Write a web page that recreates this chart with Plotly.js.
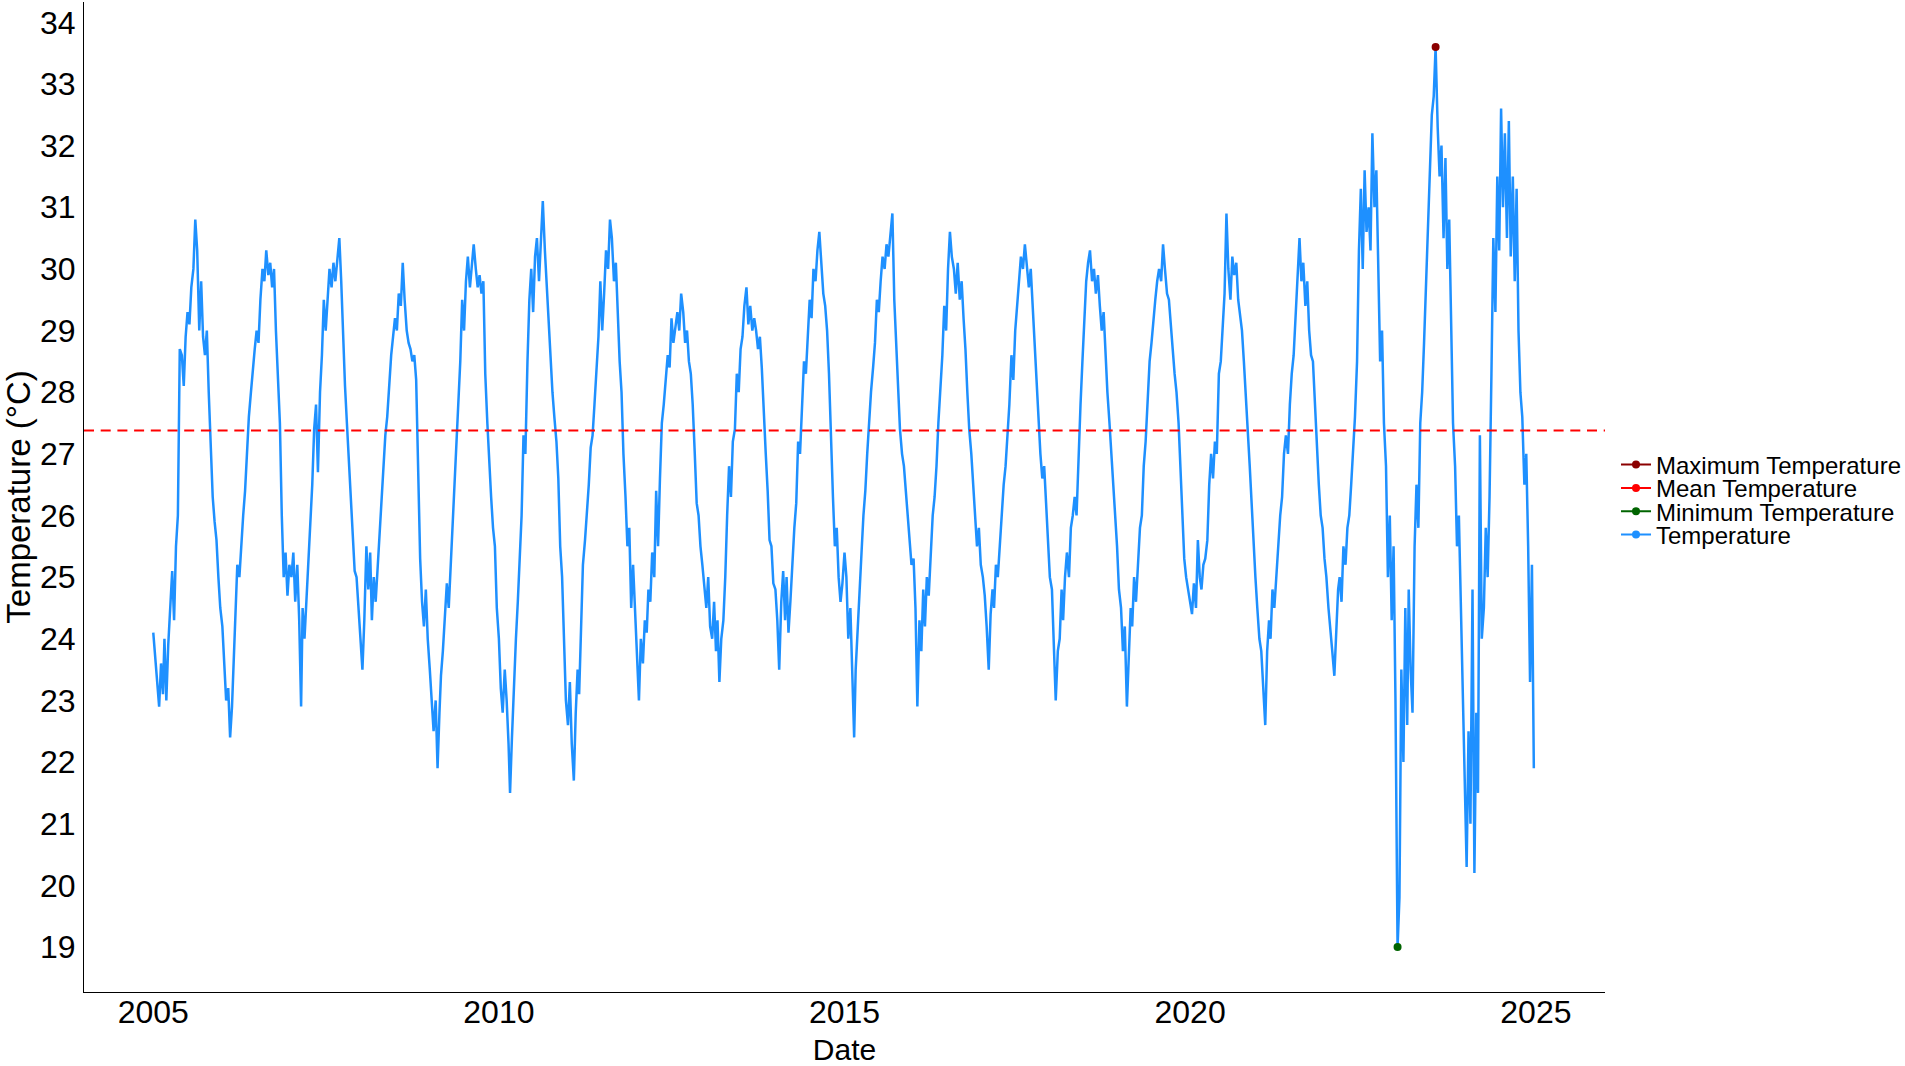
<!DOCTYPE html>
<html>
<head>
<meta charset="utf-8">
<script src="https://cdn.plot.ly/plotly-3.0.1.min.js"></script>
<style>
  html, body { margin: 0; padding: 0; background: #fff; }
  #chart { width: 1905px; height: 1066px; }
</style>
</head>
<body>
<div id="chart"></div>
<script>
// readings every ~10 days (1st, 11th, 21st of each month), one array per year
const firstYear = 2005;
const sampleDays = [1, 11, 21];

const t2005 = [24.1,23.7,23.3,22.9,23.6,23.1,24.0,23.0,23.9,24.5,25.1,24.3, 25.5,26.0,28.7,28.6,28.1,28.9,29.3,29.1,29.7,30.0,30.8,30.3, 29.0,29.8,28.9,28.6,29.0,28.0,27.0,26.3,25.9,25.6,25.0,24.5];
const t2006 = [24.2,23.6,23.0,23.2,22.4,22.9,23.5,24.3,25.2,25.0,25.6,26.0, 26.4,27.0,27.6,28.0,28.4,28.7,29.0,28.8,29.5,30.0,29.8,30.3, 29.9,30.1,29.7,30.0,29.0,28.3,27.5,26.0,25.0,25.4,24.7,25.2];
const t2007 = [25.0,25.4,24.6,25.2,24.3,22.9,24.5,24.0,24.6,25.3,25.8,26.5, 27.4,27.8,26.7,28.0,28.6,29.5,29.0,29.6,30.0,29.7,30.1,29.8, 30.2,30.5,29.8,28.8,28.1,27.5,26.8,26.3,25.5,25.1,25.0,24.5];
const t2008 = [23.9,23.5,24.3,25.5,24.8,25.4,24.3,25.0,24.6,25.2,25.7,26.2, 26.8,27.3,27.6,28.2,28.6,28.9,29.2,29.0,29.6,29.4,30.1,29.5, 29.0,28.8,28.7,28.5,28.6,28.2,26.5,25.3,24.6,24.2,24.8,24.0];
const t2009 = [23.5,23.0,22.5,23.0,21.9,22.8,23.4,23.8,24.4,24.9,24.5,25.2, 25.7,26.5,27.3,27.8,28.5,29.5,29.0,29.8,30.2,29.7,30.1,30.4, 30.0,29.7,29.9,29.6,29.8,28.3,27.5,26.8,26.3,25.8,25.5,24.5];
const t2010 = [24.0,23.2,22.8,23.5,23.0,22.3,21.5,22.4,23.3,24.0,24.6,25.2, 26.0,27.3,27.0,28.5,29.5,30.0,29.3,30.2,30.5,29.8,30.4,31.1, 30.3,29.7,29.2,28.5,28.0,27.6,27.2,26.6,25.5,25.0,24.0,23.0];
const t2011 = [22.6,23.3,22.3,21.7,22.8,23.5,23.1,24.3,25.2,25.6,26.0,26.5, 27.1,27.3,27.8,28.5,28.9,29.8,29.0,29.6,30.3,30.0,30.8,30.5, 29.8,30.1,29.2,28.5,28.0,27.0,26.3,25.5,25.8,24.5,25.2,24.5];
const t2012 = [23.8,23.0,24.0,23.6,24.3,24.1,24.8,24.6,25.4,25.0,26.4,25.5, 26.6,27.5,27.8,28.3,28.6,28.4,29.2,28.8,29.0,29.3,29.0,29.6, 29.3,28.8,29.0,28.5,28.3,27.8,27.0,26.2,26.0,25.5,25.2,24.8];
const t2013 = [24.5,25.0,24.2,24.0,24.6,23.8,24.3,23.3,24.0,24.3,25.0,26.0, 26.8,26.3,27.2,27.4,28.3,28.0,28.7,28.9,29.4,29.7,29.1,29.4, 29.0,29.2,29.0,28.7,28.9,28.4,27.5,27.0,26.4,25.6,25.5,24.9];
const t2014 = [24.8,24.3,23.5,24.6,25.1,24.3,25.0,24.1,24.6,25.3,25.8,26.2, 27.2,27.0,27.8,28.5,28.3,29.0,29.5,29.2,30.0,29.8,30.3,30.6, 30.0,29.6,29.4,29.0,28.3,27.2,26.3,25.5,25.8,25.0,24.6,24.9];
const t2015 = [25.4,25.0,24.0,24.5,23.5,22.4,23.5,24.2,24.7,25.4,26.0,26.4, 27.0,27.6,28.0,28.4,28.8,29.5,29.3,29.8,30.2,30.0,30.4,30.2, 30.6,30.9,29.5,28.8,28.0,27.4,27.0,26.8,26.4,26.0,25.6,25.2];
const t2016 = [25.3,24.5,22.9,24.3,23.8,24.8,24.2,25.0,24.7,25.5,26.0,26.3, 26.8,27.5,28.0,28.6,29.4,29.0,30.0,30.6,30.2,30.0,29.6,30.1, 29.5,29.8,29.2,28.7,28.0,27.4,27.0,26.5,26.0,25.5,25.8,25.2];
const t2017 = [25.0,24.7,24.2,23.5,24.4,24.8,24.5,25.2,25.0,25.6,26.0,26.5, 26.8,27.3,27.8,28.6,28.2,29.0,29.5,29.8,30.2,30.0,30.4,30.0, 29.7,30.0,29.4,29.0,28.4,27.8,27.0,26.6,26.8,26.2,25.5,25.0];
const t2018 = [24.8,24.0,23.0,23.8,24.0,24.8,24.3,25.0,25.4,25.0,25.8,26.0, 26.3,26.0,27.0,27.8,28.5,29.2,29.8,30.1,30.3,29.8,30.0,29.6, 29.9,29.4,29.0,29.3,28.5,28.0,27.5,27.0,26.5,26.0,25.5,24.8];
const t2019 = [24.5,23.8,24.2,22.9,23.8,24.5,24.2,25.0,24.6,25.3,25.8,26.0, 26.8,27.2,27.8,28.5,28.8,29.2,29.5,29.8,30.0,29.8,30.4,30.0, 29.6,29.5,29.0,28.7,28.3,28.0,27.5,26.8,26.0,25.3,25.0,24.8];
const t2020 = [24.6,24.4,24.9,24.5,25.6,25.0,24.8,25.2,25.3,25.6,26.5,27.0, 26.6,27.2,27.0,28.3,28.5,29.0,29.6,30.9,30.0,29.5,30.2,29.9, 30.1,29.5,29.2,29.0,28.5,28.0,27.3,26.8,26.2,25.5,25.0,24.5];
const t2021 = [24.0,23.8,23.3,22.6,23.8,24.3,24.0,24.8,24.5,25.0,25.6,26.0, 26.3,27.0,27.3,27.0,27.8,28.3,28.6,29.2,29.8,30.5,29.8,30.1, 29.4,29.8,29.0,28.6,28.5,27.8,27.0,26.5,26.0,25.8,25.3,25.0];
const t2022 = [24.5,24.2,23.8,23.4,24.2,24.8,25.0,24.6,25.5,25.2,25.8,26.0, 26.5,27.0,27.6,28.5,30.3,31.3,30.0,31.6,30.6,31.0,30.3,32.2, 31.0,31.6,30.3,28.5,29.0,27.5,26.8,25.0,26.0,24.3,25.5,23.0];
const t2023 = [19.0,19.8,23.5,22.0,24.5,22.6,24.8,23.5,22.8,25.5,26.5,25.8, 27.5,28.0,28.8,29.8,30.8,31.5,32.5,32.8,33.6,32.3,31.5,32.0, 30.5,31.8,30.0,30.8,29.0,27.5,26.8,25.5,26.0,24.5,23.0,21.5];
const t2024 = [20.3,22.5,21.0,24.8,20.2,22.8,21.5,27.3,24.0,24.5,25.8,25.0, 26.3,28.3,30.5,29.3,31.5,30.3,32.6,31.0,32.2,30.5,32.4,30.2, 31.5,29.8,31.3,29.0,28.0,27.6,26.5,27.0,25.5,23.3,25.2,21.9];

const yearlyTemps = [t2005, t2006, t2007, t2008, t2009, t2010, t2011, t2012, t2013, t2014,
                     t2015, t2016, t2017, t2018, t2019, t2020, t2021, t2022, t2023, t2024];
const meanTemp = 27.38;

const legendNames = ['Maximum Temperature', 'Mean Temperature', 'Minimum Temperature', 'Temperature'];
const legendColors = ['#8B0000', '#FF0000', '#006400', '#1E90FF'];

const xRange = ['2004-01-01', '2026-01-01'];
const pad = n => String(n).padStart(2, '0');

const dates = [];
const temps = [];
yearlyTemps.forEach((vals, yi) => {
  vals.forEach((v, i) => {
    const m = Math.floor(i / 3) + 1;
    dates.push((firstYear + yi) + '-' + pad(m) + '-' + pad(sampleDays[i % 3]));
    temps.push(v);
  });
});

let iMax = 0, iMin = 0;
temps.forEach((v, i) => {
  if (v > temps[iMax]) iMax = i;
  if (v < temps[iMin]) iMin = i;
});

const FONT = "'Liberation Sans', Arial, sans-serif";

const traces = [
  {
    type: 'scatter', mode: 'lines', x: dates, y: temps,
    line: { color: '#1E90FF', width: 2.5 },
    showlegend: false, hoverinfo: 'skip',
  },
  {
    type: 'scatter', mode: 'lines', x: xRange, y: [meanTemp, meanTemp],
    line: { color: '#FF0000', width: 2, dash: '10px,6.7px' },
    showlegend: false, hoverinfo: 'skip',
  },
  {
    type: 'scatter', mode: 'markers', x: [dates[iMax]], y: [temps[iMax]],
    marker: { color: '#8B0000', size: 8 },
    showlegend: false, hoverinfo: 'skip',
  },
  {
    type: 'scatter', mode: 'markers', x: [dates[iMin]], y: [temps[iMin]],
    marker: { color: '#006400', size: 8 },
    showlegend: false, hoverinfo: 'skip',
  },
];

// ggplot-style keys (short line + dot); one small legend per row so the rows sit close together
const legendRowsY = [0.5323, 0.5088, 0.4852, 0.4616];
const legendIds = ['legend', 'legend2', 'legend3', 'legend4'];
legendNames.forEach((name, i) => {
  traces.push({
    type: 'scatter', mode: 'lines+markers', x: [null], y: [null], name,
    legend: legendIds[i],
    line: { color: legendColors[i], width: 2 },
    marker: { color: legendColors[i], size: 8 },
    hoverinfo: 'skip',
  });
});

const layout = {
  width: 1905,
  height: 1066,
  margin: { l: 84, r: 300, t: 2, b: 74 },
  paper_bgcolor: '#fff',
  plot_bgcolor: '#fff',
  font: { family: FONT, color: '#000' },
  showlegend: true,
  hovermode: false,
  xaxis: {
    type: 'date', range: xRange,
    tick0: '2005-01-01', dtick: 'M60', tickformat: '%Y',
    showgrid: false, zeroline: false, showline: true, linecolor: '#000', linewidth: 1,
    ticks: '', ticklabelstandoff: -8,
    tickfont: { family: FONT, size: 32, color: '#000' },
    title: { text: 'Date', font: { family: FONT, size: 30, color: '#000' }, standoff: 13 },
  },
  yaxis: {
    range: [18.27, 34.33], tick0: 19, dtick: 1,
    showgrid: false, zeroline: false, showline: true, linecolor: '#000', linewidth: 1,
    ticks: '', ticklabelstandoff: 1,
    tickfont: { family: FONT, size: 32, color: '#000' },
    title: { text: 'Temperature (°C)', font: { family: FONT, size: 33, color: '#000' }, standoff: 2 },
  },
};

legendIds.forEach((id, i) => {
  layout[id] = {
    xref: 'container', x: 0.8483, xanchor: 'left',
    yref: 'paper', y: legendRowsY[i], yanchor: 'middle',
    font: { family: FONT, size: 24, color: '#000' },
    bgcolor: 'rgba(0,0,0,0)', itemwidth: 30,
  };
});

Plotly.newPlot('chart', traces, layout, { displayModeBar: false, staticPlot: true });
</script>
</body>
</html>
